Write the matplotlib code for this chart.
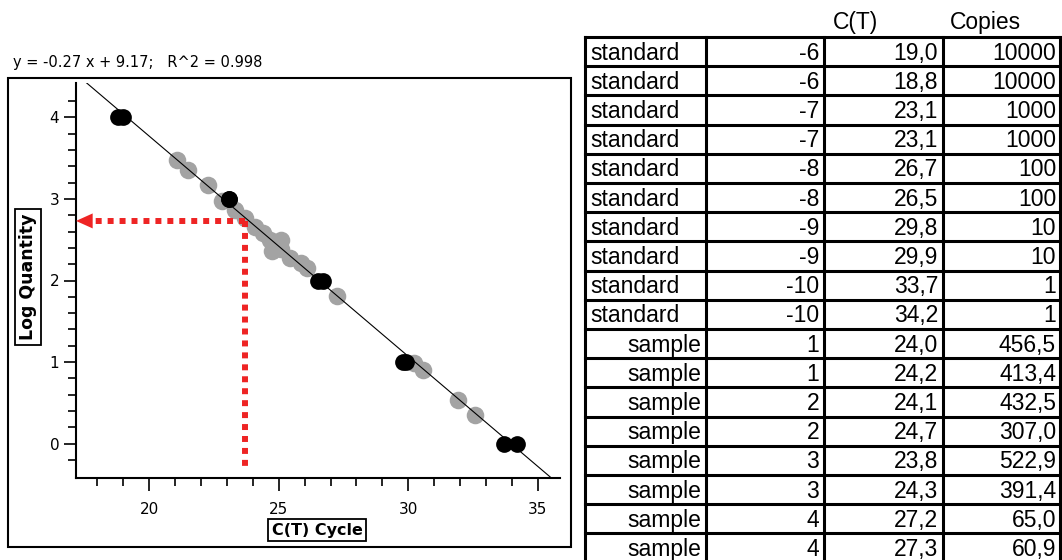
import numpy as np
import matplotlib.pyplot as plt
from matplotlib.patches import Rectangle

# table data: type, dilution / sample id, C(T), copies
kinds = ['standard'] * 10 + ['sample'] * 8
ids = [-6, -6, -7, -7, -8, -8, -9, -9, -10, -10, 1, 1, 2, 2, 3, 3, 4, 4]
ct = [19.0, 18.8, 23.1, 23.1, 26.7, 26.5, 29.8, 29.9, 33.7, 34.2,
      24.0, 24.2, 24.1, 24.7, 23.8, 24.3, 27.2, 27.3]
copies = [10000, 10000, 1000, 1000, 100, 100, 10, 10, 1, 1,
          456.5, 413.4, 432.5, 307.0, 522.9, 391.4, 65.0, 60.9]

# fit reported on the chart
slope, intercept, r2 = -0.27, 9.17, 0.998

# grey (unknown) points
grey_ct = [21.08, 21.5, 22.28, 22.82, 23.3, 23.7, 24.1, 24.4, 24.65, 25.1,
           24.75, 25.1, 24.9, 25.45, 25.85, 26.1, 27.25, 30.2, 30.55, 31.93, 32.59]
grey_logq = [3.48, 3.36, 3.17, 2.97, 2.86, 2.77, 2.66, 2.58, 2.50, 2.50,
             2.36, 2.38, 2.44, 2.28, 2.21, 2.15, 1.81, 0.99, 0.90, 0.54, 0.35]

# read-off guide
guide_ct, guide_logq = 23.7, 2.73

W, H = 1062, 560
red = '#ee2424'

fig = plt.figure(figsize=(W / 100, H / 100), dpi=100)

# overlay in pixel units for frame, labels and table
ov = fig.add_axes([0, 0, 1, 1])
ov.set_xlim(0, W)
ov.set_ylim(H, 0)
ov.axis('off')

ax = fig.add_axes([76 / W, (H - 478) / H, 484 / W, 395 / H])
ax.set_zorder(2)
ax.patch.set_alpha(0)

std_ct = ct[:10]
std_logq = np.log10(copies[:10])

ax.scatter(grey_ct, grey_logq, s=160, color='#a3a3a3', lw=0, zorder=2)
ax.scatter(std_ct, std_logq, s=145, color='black', lw=0, zorder=3)
xs = np.array([15, 37])
ax.plot(xs, slope * xs + intercept, color='black', lw=0.8, zorder=4)

# dotted guide with arrow
ax.set_xlim(17.18, 35.85)
ax.set_ylim(-0.42, 4.42)
x0 = ax.get_xlim()[0]
ax.plot([guide_ct, x0 + 0.55], [guide_logq, guide_logq], color=red, lw=4.3,
        ls=(0, (1, 1)), dash_capstyle='butt', zorder=5)
ax.plot([guide_ct, guide_ct], [guide_logq, -0.3], color=red, lw=4.3,
        ls=(0, (1, 1)), dash_capstyle='butt', zorder=5)
ax.annotate('', xy=(x0, guide_logq), xytext=(x0 + 0.65, guide_logq),
            arrowprops=dict(arrowstyle='-|>,head_length=1.0,head_width=0.45',
                            color=red, lw=0, mutation_scale=12,
                            shrinkA=0, shrinkB=0),
            annotation_clip=False, zorder=6)

ax.set_xticks([20, 25, 30, 35])
ax.set_xticks(np.arange(18, 36), minor=True)
ax.set_yticks([0, 1, 2, 3, 4])
ax.set_yticks(np.arange(-0.2, 4.4, 0.2), minor=True)
for s in ['top', 'right']:
    ax.spines[s].set_visible(False)
for s in ['left', 'bottom']:
    ax.spines[s].set_linewidth(1.5)
ax.tick_params(direction='out', length=9, width=1.2, labelsize=11)
ax.tick_params(which='minor', direction='out', length=6, width=1.2)
ax.tick_params(axis='x', pad=8)
ax.tick_params(axis='y', pad=3)

# outer frame, title and boxed axis labels
ov.add_patch(Rectangle((8, 78), 563, 469, fill=False, lw=1.5, ec='black'))
ov.text(13, 63, f'y = {slope} x + {intercept};   R^2 = {r2}', fontsize=10.5,
        va='center', ha='left')
box = dict(boxstyle='square,pad=0.25', fc='white', ec='black', lw=1.3)
ov.text(28, 277, 'Log Quantity', rotation=90, fontsize=12.5, fontweight='bold',
        ha='center', va='center', bbox=box)
ov.text(317, 530, 'C(T) Cycle', fontsize=11.5, fontweight='bold',
        ha='center', va='center', bbox=box)

# table
cols = [585, 706, 824, 943, 1060]
top, rh = 37, 29.2
tfont = dict(fontsize=16.5, family='Liberation Sans')
ov.text(855, 22, 'C(T)', ha='center', va='center', **tfont)
ov.text(985, 22, 'Copies', ha='center', va='center', **tfont)
for i in range(len(ct) + 1):
    y = top + i * rh
    ov.plot([cols[0], cols[-1]], [y, y], color='black', lw=2.2, clip_on=False)
for c in cols:
    ov.plot([c, c], [top, H + 5], color='black', lw=2.2, clip_on=False)
for i in range(len(ct)):
    yc = top + i * rh + rh / 2 + 1.5
    if kinds[i] == 'standard':
        ov.text(cols[0] + 5, yc, kinds[i], ha='left', va='center', **tfont)
        cp = f'{copies[i]:.0f}'
    else:
        ov.text(cols[1] - 5, yc, kinds[i], ha='right', va='center', **tfont)
        cp = f'{copies[i]:.1f}'.replace('.', ',')
    ov.text(cols[2] - 5, yc, str(ids[i]), ha='right', va='center', **tfont)
    ov.text(cols[3] - 5, yc, f'{ct[i]:.1f}'.replace('.', ','), ha='right',
            va='center', **tfont)
    ov.text(cols[4] - 4, yc, cp, ha='right', va='center', **tfont)

fig.savefig('out.png', dpi=100)
